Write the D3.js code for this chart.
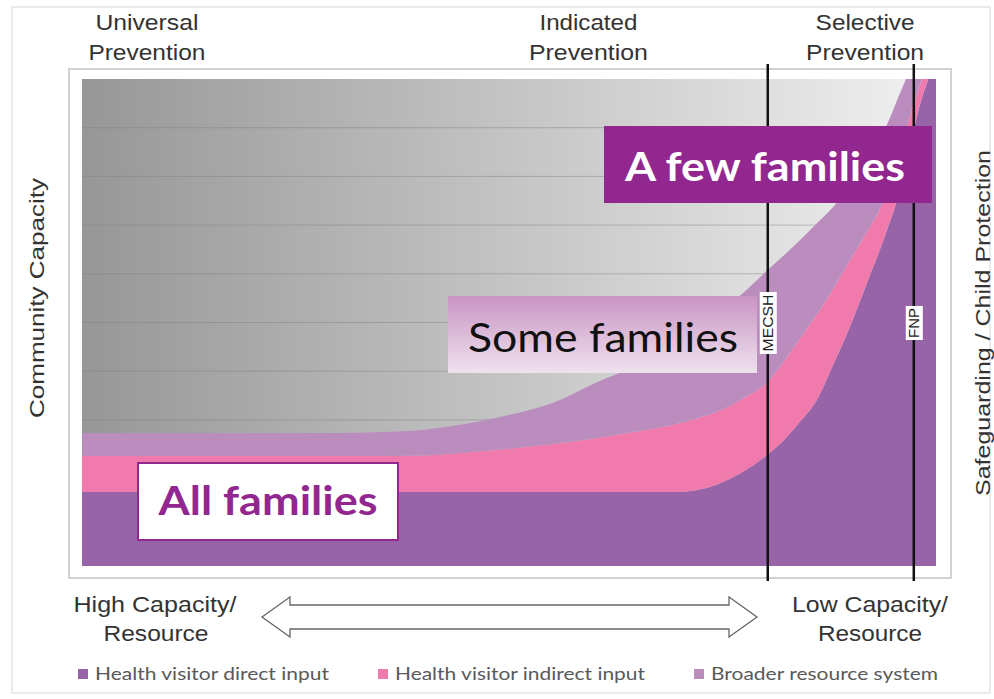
<!DOCTYPE html>
<html>
<head>
<meta charset="utf-8">
<script src="https://cdn.jsdelivr.net/npm/d3@7"></script>
<style>
body { margin:0; background:#fff; }
svg { display:block; }
</style>
</head>
<body>
<div id="chart"></div>
<script>
// position along capacity axis (0 = high capacity, 100 = low capacity)
var xPos = [0,10,20,30,35,40,45,50,55,60,65,70,72,74,76,78,80,82,84,86,88,90,92,94,96,98,100];
// thickness of each band (stacked)
var direct   = [15.2,15.2,15.2,15.2,15.2,15.2,15.2,15.2,15.2,15.2,15.2,15.2,15.6,16.5,18.0,20.0,22.5,25.5,29.5,34.0,41.5,49.5,58.5,67.7,78.5,94.0,104];
var indirect = [7.4,7.4,7.4,7.4,7.4,7.5,8.1,8.9,9.8,11.0,12.4,14.1,14.7,14.9,15.0,15.0,14.8,16.0,17.0,17.5,15.5,13.5,10.3,7.8,8.5,4.0,4.0];
var broader  = [4.7,4.7,4.7,4.7,4.9,5.3,5.9,6.9,8.4,11.3,13.6,16.7,18.0,19.6,21.0,22.0,23.0,22.0,20.3,18.8,16.8,15.5,15.2,14.2,11.0,8.0,4.0];

var seriesKeys = ["direct","indirect","broader"];
var legendLabels = ["Health visitor direct input","Health visitor indirect input","Broader resource system"];
var colours = ["#9764a8","#f07aab","#bb8dbf"];

var phases = [["Universal","Prevention"],["Indicated","Prevention"],["Selective","Prevention"]];
var phasePos = [7.6, 59.3, 91.7];
var markers = ["MECSH","FNP"];
var markerPos = [80.3, 97.4];
var gridTicks = [10,20,30,40,50,60,70,80,90];

var W = 994, H = 699;
var plot = {left:82, right:936, top:79, bottom:566};

var svg = d3.select("#chart").append("svg").attr("width",W).attr("height",H)
  .style("font-family","'Liberation Sans', Arial, sans-serif");

var x = d3.scaleLinear().domain([0,100]).range([plot.left, plot.right]);
var y = d3.scaleLinear().domain([0,100]).range([plot.bottom, plot.top]);

var defs = svg.append("defs");
var bg = defs.append("linearGradient").attr("id","bgGrad").attr("x1","0").attr("x2","1").attr("y1","0").attr("y2","0");
bg.append("stop").attr("offset","0").attr("stop-color","#979797");
bg.append("stop").attr("offset","0.5").attr("stop-color","#c4c4c4");
bg.append("stop").attr("offset","1").attr("stop-color","#f1f1f1");
var sg = defs.append("linearGradient").attr("id","someGrad").attr("x1","0").attr("x2","0").attr("y1","0").attr("y2","1");
sg.append("stop").attr("offset","0").attr("stop-color","#c994c4");
sg.append("stop").attr("offset","1").attr("stop-color","#efe2ee");
defs.append("clipPath").attr("id","plotClip").append("rect")
  .attr("x",plot.left).attr("y",plot.top)
  .attr("width",plot.right-plot.left).attr("height",plot.bottom-plot.top);

// outer border and frame
svg.append("rect").attr("x",12).attr("y",7).attr("width",978).attr("height",686)
  .attr("fill","none").attr("stroke","#e4e4e4").attr("stroke-width",1.5);
svg.append("rect").attr("x",69).attr("y",69).attr("width",882).attr("height",509)
  .attr("fill","#fff").attr("stroke","#d2d2d2").attr("stroke-width",2);

// plot background + gridlines
svg.append("rect").attr("x",plot.left).attr("y",plot.top)
  .attr("width",plot.right-plot.left).attr("height",plot.bottom-plot.top)
  .attr("fill","url(#bgGrad)");
svg.append("g").selectAll("line").data(gridTicks).enter().append("line")
  .attr("x1",plot.left).attr("x2",plot.right)
  .attr("y1",function(d){return y(d);}).attr("y2",function(d){return y(d);})
  .attr("stroke","#7f7f7f").attr("stroke-opacity",0.45).attr("stroke-width",1);

// stacked areas
var rows = xPos.map(function(p,i){ return {x:p, direct:direct[i], indirect:indirect[i], broader:broader[i]}; });
var stack = d3.stack().keys(seriesKeys);
var layers = stack(rows);
var area = d3.area()
  .x(function(d){ return x(d.data.x); })
  .y0(function(d){ return y(d[0]); })
  .y1(function(d){ return y(d[1]); })
  .curve(d3.curveMonotoneX);
svg.append("g").attr("clip-path","url(#plotClip)")
  .selectAll("path").data(layers).enter().append("path")
  .attr("d",area)
  .attr("fill",function(d,i){ return colours[i]; });

// boxed labels
var allG = svg.append("g");
allG.append("rect").attr("x",138).attr("y",463).attr("width",260).attr("height",77)
  .attr("fill","#fff").attr("stroke","#92278f").attr("stroke-width",2);
allG.append("text").attr("x",268).attr("y",515).attr("text-anchor","middle")
  .attr("font-family","Lato, 'Open Sans', sans-serif").attr("font-weight","bold")
  .attr("font-size",40).attr("fill","#92278f")
  .attr("textLength",219).attr("lengthAdjust","spacingAndGlyphs").text("All families");

svg.append("rect").attr("x",448).attr("y",296).attr("width",309).attr("height",77)
  .attr("fill","url(#someGrad)");
svg.append("text").attr("x",603).attr("y",352).attr("text-anchor","middle")
  .attr("font-family","Lato, 'Open Sans', sans-serif")
  .attr("font-size",40).attr("fill","#111")
  .attr("textLength",270).attr("lengthAdjust","spacingAndGlyphs").text("Some families");

// marker lines
var mk = svg.append("g").selectAll("g").data(markers).enter().append("g");
mk.append("line")
  .attr("x1",function(d,i){return x(markerPos[i]);}).attr("x2",function(d,i){return x(markerPos[i]);})
  .attr("y1",64).attr("y2",581).attr("stroke","#111").attr("stroke-width",2.5);
mk.append("rect")
  .attr("x",function(d,i){return x(markerPos[i])-8;})
  .attr("y",function(d,i){return 323 - (i==0?31:17);})
  .attr("width",17).attr("height",function(d,i){return i==0?62:34;})
  .attr("fill","#fff");
mk.append("text")
  .attr("transform",function(d,i){return "translate("+(x(markerPos[i])+5.5)+",323) rotate(-90)";})
  .attr("text-anchor","middle").attr("font-size",15).attr("fill","#222")
  .attr("textLength",function(d,i){return i==0?57:30;}).attr("lengthAdjust","spacingAndGlyphs")
  .text(function(d){return d;});

// A few families box
svg.append("rect").attr("x",604).attr("y",126).attr("width",328).attr("height",77).attr("fill","#92278f");
svg.append("text").attr("x",765).attr("y",181).attr("text-anchor","middle")
  .attr("font-family","Lato, 'Open Sans', sans-serif").attr("font-weight","bold")
  .attr("font-size",40).attr("fill","#fff")
  .attr("textLength",280).attr("lengthAdjust","spacingAndGlyphs").text("A few families");

// phase labels on top
var phaseW = [[103,117],[98,119],[99,118]];
var ph = svg.append("g").selectAll("text").data(phases).enter().append("text")
  .attr("text-anchor","middle").attr("font-size",22).attr("fill","#333");
ph.append("tspan").attr("x",function(d,i){return x(phasePos[i]);}).attr("y",30)
  .attr("textLength",function(d,i){return phaseW[i][0];}).attr("lengthAdjust","spacingAndGlyphs")
  .text(function(d){return d[0];});
ph.append("tspan").attr("x",function(d,i){return x(phasePos[i]);}).attr("y",60)
  .attr("textLength",function(d,i){return phaseW[i][1];}).attr("lengthAdjust","spacingAndGlyphs")
  .text(function(d){return d[1];});

// side labels
svg.append("text").attr("transform","translate(44,298) rotate(-90)")
  .attr("text-anchor","middle").attr("font-size",21).attr("fill","#333")
  .attr("textLength",240).attr("lengthAdjust","spacingAndGlyphs").text("Community Capacity");
svg.append("text").attr("transform","translate(990,323) rotate(-90)")
  .attr("text-anchor","middle").attr("font-size",21).attr("fill","#333")
  .attr("textLength",346).attr("lengthAdjust","spacingAndGlyphs").text("Safeguarding / Child Protection");

// bottom capacity labels
var capL = svg.append("text").attr("text-anchor","middle").attr("font-size",22).attr("fill","#333");
capL.append("tspan").attr("x",155).attr("y",612).attr("textLength",163).attr("lengthAdjust","spacingAndGlyphs").text("High Capacity/");
capL.append("tspan").attr("x",156).attr("y",641).attr("textLength",105).attr("lengthAdjust","spacingAndGlyphs").text("Resource");
var capR = svg.append("text").attr("text-anchor","middle").attr("font-size",22).attr("fill","#333");
capR.append("tspan").attr("x",870).attr("y",612).attr("textLength",156).attr("lengthAdjust","spacingAndGlyphs").text("Low Capacity/");
capR.append("tspan").attr("x",870).attr("y",641).attr("textLength",104).attr("lengthAdjust","spacingAndGlyphs").text("Resource");

// double arrow
var ax0 = 262, ax1 = 757, ay = 617;
svg.append("path")
  .attr("d","M"+ax0+","+ay+" L"+(ax0+28)+","+(ay-20)+" L"+(ax0+28)+","+(ay-12)+" L"+(ax1-28)+","+(ay-12)+
    " L"+(ax1-28)+","+(ay-20)+" L"+ax1+","+ay+" L"+(ax1-28)+","+(ay+20)+" L"+(ax1-28)+","+(ay+12)+
    " L"+(ax0+28)+","+(ay+12)+" L"+(ax0+28)+","+(ay+20)+" Z")
  .attr("fill","#fff").attr("stroke","#666").attr("stroke-width",1.3);

// legend
var legX = [78, 378, 694];
var legW = [234, 250, 227];
var lg = svg.append("g").selectAll("g").data(legendLabels).enter().append("g")
  .attr("transform",function(d,i){return "translate("+legX[i]+",669)";});
lg.append("rect").attr("width",10).attr("height",10).attr("fill",function(d,i){return colours[i];});
lg.append("text").attr("x",17).attr("y",11).attr("font-family","Lato, 'Open Sans', sans-serif")
  .attr("font-size",17).attr("fill","#595959")
  .attr("textLength",function(d,i){return legW[i];}).attr("lengthAdjust","spacingAndGlyphs")
  .text(function(d){return d;});
</script>
</body>
</html>
